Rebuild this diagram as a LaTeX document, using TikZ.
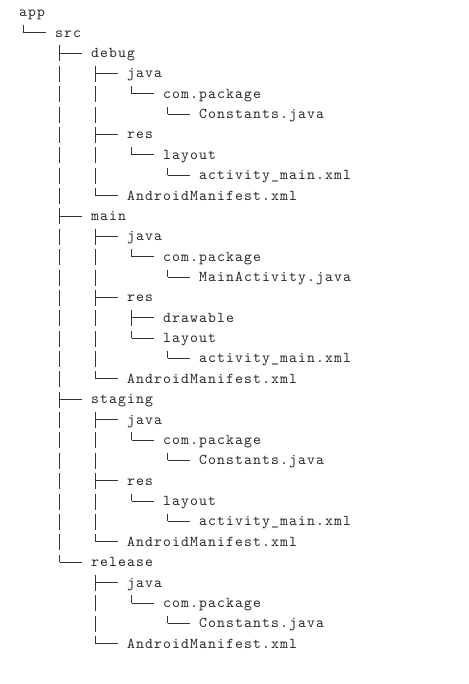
\documentclass[tikz,border=0pt]{standalone}
\usepackage{fontspec}
\newfontfamily\treefont{lmmono10-regular.otf}[LetterSpace=7.5]
\usetikzlibrary{calc}
\tikzset{
  entry/.style={anchor=base west, inner sep=0pt, outer sep=0pt, text=black!85,
    font=\treefont\fontsize{15pt}{15pt}\selectfont},
  vbar/.style={draw=black!80, line width=0.75pt, dash pattern=on 16pt off 4.37pt},
  hbar/.style={draw=black!80, line width=0.75pt}
}
\newcommand\entry[4]{\node[entry] (#1) at ({19pt+#2*9pt},{684pt-16.7pt-#3*20.37pt}) {#4};}
\newcommand\conn[2]{%
  \coordinate (tA) at ($(#1.base west)+(4.5pt,-8.37pt)$);
  \coordinate (tB) at ($(#2.base west)+(-9pt,4.5pt)$);
  \draw[vbar] (tA) -- (tA |- tB);
  \draw[hbar] (tA |- tB) -- (tB);}
\begin{document}
\begin{tikzpicture}
\useasboundingbox (0pt,0pt) rectangle (468pt,684pt);
\entry{r0}{0}{0}{app}
\entry{r1}{4}{1}{src}
\entry{r2}{8}{2}{debug}
\entry{r3}{12}{3}{java}
\entry{r4}{16}{4}{com.package}
\entry{r5}{20}{5}{Constants.java}
\entry{r6}{12}{6}{res}
\entry{r7}{16}{7}{layout}
\entry{r8}{20}{8}{activity\_main.xml}
\entry{r9}{12}{9}{AndroidManifest.xml}
\entry{r10}{8}{10}{main}
\entry{r11}{12}{11}{java}
\entry{r12}{16}{12}{com.package}
\entry{r13}{20}{13}{MainActivity.java}
\entry{r14}{12}{14}{res}
\entry{r15}{16}{15}{drawable}
\entry{r16}{16}{16}{layout}
\entry{r17}{20}{17}{activity\_main.xml}
\entry{r18}{12}{18}{AndroidManifest.xml}
\entry{r19}{8}{19}{staging}
\entry{r20}{12}{20}{java}
\entry{r21}{16}{21}{com.package}
\entry{r22}{20}{22}{Constants.java}
\entry{r23}{12}{23}{res}
\entry{r24}{16}{24}{layout}
\entry{r25}{20}{25}{activity\_main.xml}
\entry{r26}{12}{26}{AndroidManifest.xml}
\entry{r27}{8}{27}{release}
\entry{r28}{12}{28}{java}
\entry{r29}{16}{29}{com.package}
\entry{r30}{20}{30}{Constants.java}
\entry{r31}{12}{31}{AndroidManifest.xml}
\conn{r0}{r1}
\conn{r1}{r2}\conn{r1}{r10}\conn{r1}{r19}\conn{r1}{r27}
\conn{r2}{r3}\conn{r2}{r6}\conn{r2}{r9}
\conn{r3}{r4}\conn{r4}{r5}
\conn{r6}{r7}\conn{r7}{r8}
\conn{r10}{r11}\conn{r10}{r14}\conn{r10}{r18}
\conn{r11}{r12}\conn{r12}{r13}
\conn{r14}{r15}\conn{r14}{r16}\conn{r16}{r17}
\conn{r19}{r20}\conn{r19}{r23}\conn{r19}{r26}
\conn{r20}{r21}\conn{r21}{r22}
\conn{r23}{r24}\conn{r24}{r25}
\conn{r27}{r28}\conn{r27}{r31}
\conn{r28}{r29}\conn{r29}{r30}
\end{tikzpicture}
\end{document}
